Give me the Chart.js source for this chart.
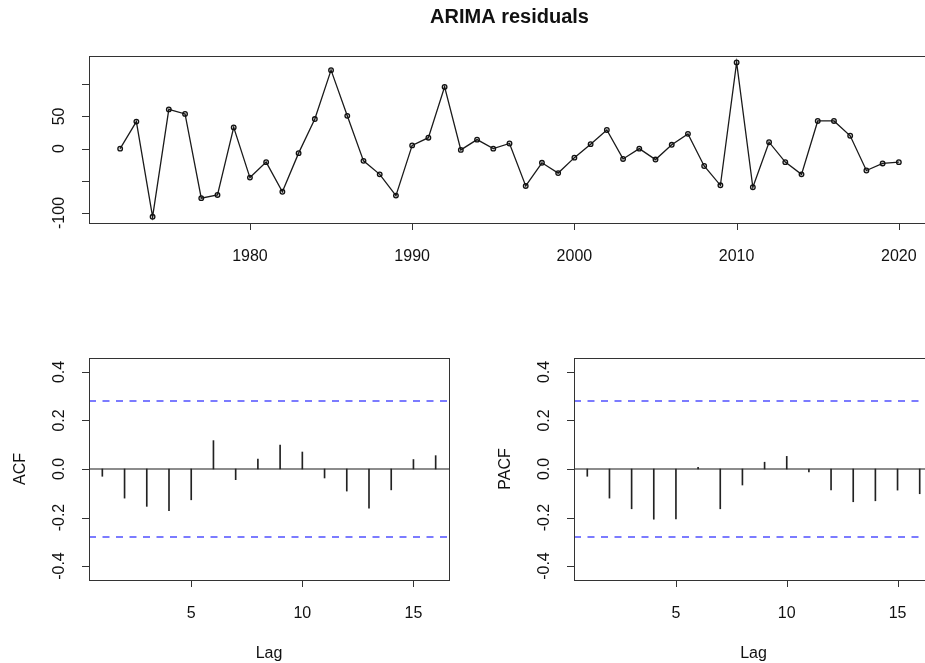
<!DOCTYPE html>
<html>
<head>
<meta charset="utf-8">
<script src="https://cdn.jsdelivr.net/npm/chart.js@4.4.1/dist/chart.umd.min.js"></script>
<style>
  html, body { margin: 0; padding: 0; background: #fff; overflow: hidden; width: 925px; height: 663px; }
  canvas { position: absolute; }
</style>
</head>
<body>
<canvas id="c-res" style="left:0;top:0" width="940" height="290"></canvas>
<canvas id="c-acf" style="left:0;top:300px" width="460" height="363"></canvas>
<canvas id="c-pacf" style="left:460px;top:300px" width="480" height="363"></canvas>
<script>
// residuals, 1972..2020
const years = [1972, 1973, 1974, 1975, 1976, 1977, 1978, 1979, 1980, 1981, 1982, 1983, 1984, 1985, 1986, 1987, 1988,
  1989, 1990, 1991, 1992, 1993, 1994, 1995, 1996, 1997, 1998, 1999, 2000, 2001, 2002, 2003, 2004, 2005, 2006, 2007,
  2008, 2009, 2010, 2011, 2012, 2013, 2014, 2015, 2016, 2017, 2018, 2019, 2020];
const residuals = [0, 42, -106, 61, 54, -77, -72, 33, -45, -21, -67, -7, 46, 122, 51, -19, -40, -73, 5, 17, 96, -2,
  14, 0, 8, -58, -22, -38, -14, 7, 29, -16, 0, -17, 6, 23, -27, -57, 134, -60, 10, -21, -40, 43, 43, 20, -34, -23, -21];

const lags = [1, 2, 3, 4, 5, 6, 7, 8, 9, 10, 11, 12, 13, 14, 15, 16];
const acfValues = [-0.030, -0.120, -0.154, -0.172, -0.127, 0.117, -0.044, 0.041, 0.099, 0.070, -0.037, -0.091,
  -0.161, -0.086, 0.039, 0.055];
const pacfValues = [-0.030, -0.120, -0.164, -0.207, -0.206, 0.007, -0.164, -0.066, 0.028, 0.052, -0.012, -0.086,
  -0.135, -0.131, -0.087, -0.102];
const ciBound = 0.28;

const yearTicks = [1980, 1990, 2000, 2010, 2020];
const resTicks = [-100, -50, 0, 50, 100];
const resTickLabels = ['-100', '', '0', '50', ''];
const lagTicks = [5, 10, 15];
const corTicks = [-0.4, -0.2, 0, 0.2, 0.4];
const corTickLabels = ['-0.4', '-0.2', '0.0', '0.2', '0.4'];

const FONT = '"Liberation Sans", Arial, Helvetica, sans-serif';

// R-style box, outside ticks and rotated y labels
const rFrame = {
  id: 'rFrame',
  afterDraw(chart, args, o) {
    const { ctx, chartArea: a, scales: { x, y } } = chart;
    ctx.save();
    ctx.strokeStyle = '#333';
    ctx.lineWidth = 1;
    ctx.strokeRect(a.left + 0.5, a.top + 0.5, a.right - a.left, a.bottom - a.top);
    ctx.beginPath();
    o.xTicks.forEach(v => {
      const px = Math.round(x.getPixelForValue(v)) + 0.5;
      ctx.moveTo(px, a.bottom); ctx.lineTo(px, a.bottom + 7);
    });
    o.yTicks.forEach(v => {
      const py = Math.round(y.getPixelForValue(v)) + 0.5;
      ctx.moveTo(a.left, py); ctx.lineTo(a.left - 7, py);
    });
    ctx.stroke();

    ctx.fillStyle = '#111';
    ctx.font = `16px ${FONT}`;
    ctx.textAlign = 'center';
    ctx.textBaseline = 'alphabetic';
    o.xTicks.forEach((v, i) => ctx.fillText(o.xLabels[i], x.getPixelForValue(v), a.bottom + 38));
    o.yTicks.forEach((v, i) => {
      if (!o.yLabels[i]) return;
      ctx.save();
      ctx.translate(a.left - 25, y.getPixelForValue(v));
      ctx.rotate(-Math.PI / 2);
      ctx.fillText(o.yLabels[i], 0, 0);
      ctx.restore();
    });
    if (o.xTitle) ctx.fillText(o.xTitle, (a.left + a.right) / 2, a.bottom + 78);
    if (o.yTitle) {
      ctx.save();
      ctx.translate(a.left - 64, (a.top + a.bottom) / 2);
      ctx.rotate(-Math.PI / 2);
      ctx.fillText(o.yTitle, 0, 0);
      ctx.restore();
    }
    if (o.title) {
      ctx.font = `bold 20px ${FONT}`;
      ctx.fillText(o.title, (a.left + a.right) / 2, a.top - 33);
    }
    ctx.restore();
  }
};

new Chart(document.getElementById('c-res'), {
  type: 'line',
  data: {
    datasets: [{
      data: years.map((yr, i) => ({ x: yr, y: residuals[i] })),
      borderColor: '#1a1a1a', borderWidth: 1.3, tension: 0,
      pointRadius: 2.3, pointBorderWidth: 1.3, pointBorderColor: '#111', pointBackgroundColor: 'rgba(0,0,0,0.15)',
    }],
  },
  options: {
    responsive: false, animation: false,
    layout: { padding: { left: 89, top: 56, right: 10, bottom: 67 } },
    scales: {
      x: { type: 'linear', min: 1970.08, max: 2021.92, display: false },
      y: { min: -115.6, max: 144, display: false },
    },
    plugins: {
      legend: { display: false }, tooltip: { enabled: false },
      rFrame: { title: 'ARIMA residuals', xTicks: yearTicks, xLabels: yearTicks.map(String), yTicks: resTicks, yLabels: resTickLabels },
    },
  },
  plugins: [rFrame],
});

function corChart(id, values, label, padLeft, padRight) {
  new Chart(document.getElementById(id), {
    type: 'bar',
    data: {
      datasets: [
        { type: 'bar', data: lags.map((l, i) => ({ x: l, y: values[i] })), backgroundColor: '#222', barThickness: 1 },
        { type: 'line', data: [{ x: 0.4, y: 0 }, { x: 16.6, y: 0 }], borderColor: '#1a1a1a', borderWidth: 1.2, pointRadius: 0 },
        { type: 'line', data: [{ x: 0.4, y: ciBound }, { x: 16.6, y: ciBound }], borderColor: '#5050ff', borderWidth: 1.5, borderDash: [7, 6.5], pointRadius: 0 },
        { type: 'line', data: [{ x: 0.4, y: -ciBound }, { x: 16.6, y: -ciBound }], borderColor: '#5050ff', borderWidth: 1.5, borderDash: [7, 6.5], pointRadius: 0 },
      ],
    },
    options: {
      responsive: false, animation: false,
      layout: { padding: { left: padLeft, top: 58, right: padRight, bottom: 83 } },
      scales: {
        x: { type: 'linear', min: 0.4, max: 16.6, offset: false, display: false },
        y: { min: -0.4576, max: 0.4576, display: false },
      },
      plugins: {
        legend: { display: false }, tooltip: { enabled: false },
        rFrame: { xTicks: lagTicks, xLabels: lagTicks.map(String), yTicks: corTicks, yLabels: corTickLabels, xTitle: 'Lag', yTitle: label },
      },
    },
    plugins: [rFrame],
  });
}

corChart('c-acf', acfValues, 'ACF', 89, 11);
corChart('c-pacf', pacfValues, 'PACF', 114, 7);
</script>
</body>
</html>
